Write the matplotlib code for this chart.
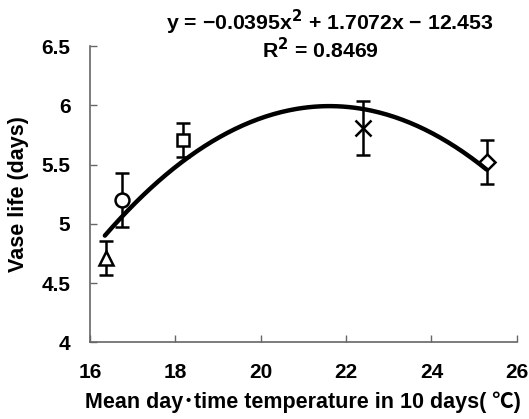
import numpy as np
import matplotlib
matplotlib.use("Agg")
import matplotlib.pyplot as plt

# Data
temps = [16.37, 16.76, 18.19, 22.39, 25.29]
vase_life = [4.71, 5.20, 5.71, 5.81, 5.52]
errors = [0.145, 0.225, 0.145, 0.225, 0.185]
markers = ['^', 'o', 's', 'x', 'D']
marker_sizes = [10, 10, 9, 12, 8]
coef = [-0.0395, 1.7072, -12.453]
r2 = 0.8469
fit_range = [16.35, 25.29]
xticks = [16, 18, 20, 22, 24, 26]
yticks = [4, 4.5, 5, 5.5, 6, 6.5]
ytick_labels = ['4', '4.5', '5', '5.5', '6', '6.5']

fam = ['Liberation Sans', 'Noto Sans CJK JP', 'DejaVu Sans']
plt.rcParams['font.family'] = fam
plt.rcParams['font.weight'] = 'bold'

fig = plt.figure(figsize=(5.29, 4.19), dpi=100)
ax = fig.add_axes([0.170, 0.183, 0.807, 0.707])

for x, y, e, m, ms in zip(temps, vase_life, errors, markers, marker_sizes):
    ax.errorbar(x, y, yerr=e, fmt='none', ecolor='black', elinewidth=1.8,
                capsize=5, capthick=1.8, zorder=2)
    ax.plot(x, y, marker=m, markersize=ms, markerfacecolor='white',
            markeredgecolor='black', markeredgewidth=1.8, linestyle='none', zorder=3)

xs = np.linspace(fit_range[0], fit_range[1], 200)
ys = np.polyval(coef, xs)
ax.plot(xs, ys, color='black', linewidth=3.2, solid_capstyle='round', zorder=4)

ax.set_xlim(16, 26)
ax.set_ylim(4, 6.5)
ax.set_xticks(xticks)
ax.set_yticks(yticks)
ax.set_yticklabels(ytick_labels)
ax.tick_params(direction='in', length=5, width=1, color='#666666',
               labelsize=15)
ax.tick_params(axis='x', pad=15)
ax.tick_params(axis='y', pad=14)
for lab in ax.get_xticklabels() + ax.get_yticklabels():
    lab.set_fontweight('bold')

for s in ['top', 'right']:
    ax.spines[s].set_visible(False)
for s in ['left', 'bottom']:
    ax.spines[s].set_color('#666666')
    ax.spines[s].set_linewidth(1.2)

ax.set_xlabel('Mean day\uff65time temperature in 10 days( ℃)', fontsize=15.5,
              fontweight='bold', labelpad=7)
ax.set_ylabel('Vase life (days)', fontsize=15.5, fontweight='bold', labelpad=9)

eq = 'y = %.4fx$^2$ + %.4fx − %.3f' % (coef[0], coef[1], -coef[2])
eq = eq.replace('-0.0395', '−0.0395')
fig.text(330/529, 1 - 22/419, eq, ha='center', va='center', fontsize=15.3,
         fontweight='bold')
fig.text(320/529, 1 - 50/419, 'R$^2$ = %.4f' % r2, ha='center', va='center',
         fontsize=15.3, fontweight='bold')

fig.savefig('out.png', dpi=100)
